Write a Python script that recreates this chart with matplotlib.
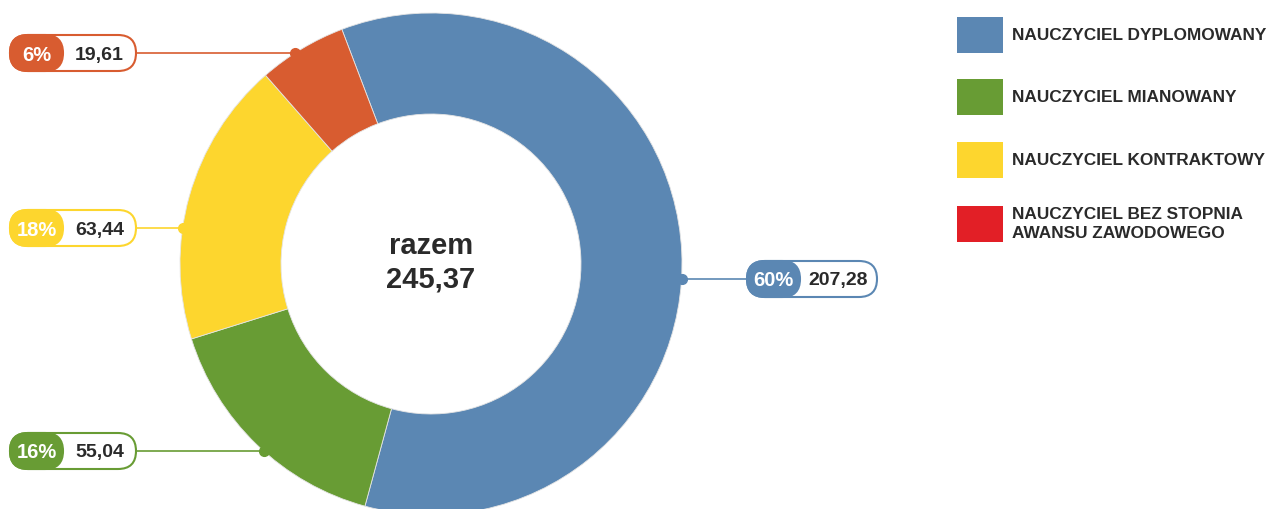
import numpy as np
import matplotlib
matplotlib.use("Agg")
import matplotlib.pyplot as plt
from matplotlib.patches import FancyBboxPatch, Rectangle

# --- data -----------------------------------------------------------------
categories = [
    "NAUCZYCIEL DYPLOMOWANY",
    "NAUCZYCIEL MIANOWANY",
    "NAUCZYCIEL KONTRAKTOWY",
    "NAUCZYCIEL BEZ STOPNIA\nAWANSU ZAWODOWEGO",
]
values = [207.28, 55.04, 63.44, 19.61]
center_title = "razem"
total_label = "245,37"

wedge_colors = ["#5b87b3", "#689c34", "#fdd62e", "#d85c30"]
legend_colors = ["#5b87b3", "#689c34", "#fdd62e", "#e21f26"]

# --- layout (pixels, measured from top) ------------------------------------
W, H = 1271, 509
label_y = [279, 451, 228, 53]
label_x = [747, 10, 10, 10]
pill_w = [130, 126, 126, 126]
pill_h = 36
pct_w = 53
legend_y = [35, 97, 160, 224]

TXT = "#2a2a2a"
FONT = "Liberation Sans"

fig = plt.figure(figsize=(W / 100, H / 100), dpi=100)
fig.patch.set_facecolor("white")
ax = fig.add_axes([0, 0, 1, 1])

cx, cy, R, r_in = 431, H - 264, 251, 150
wedges, _ = ax.pie(
    values, colors=wedge_colors, startangle=110.8, counterclock=False,
    radius=R, center=(cx, cy),
    wedgeprops=dict(width=R - r_in, edgecolor="#e4e4e4", linewidth=0.6),
)
ax.set_xlim(0, W)
ax.set_ylim(0, H)
ax.set_aspect("equal")
ax.axis("off")

ax.text(cx, H - 246, center_title, ha="center", va="center", fontsize=21,
        fontweight="bold", color=TXT, family=FONT)
ax.text(cx, H - 280, total_label, ha="center", va="center", fontsize=21,
        fontweight="bold", color=TXT, family=FONT)

total = sum(values)
for v, col, ly, lx, pw in zip(values, wedge_colors, label_y, label_x, pill_w):
    pct = f"{round(v / total * 100):.0f}%"
    val = f"{v:.2f}".replace(".", ",")
    y = H - ly
    dx = np.sqrt(R ** 2 - (y - cy) ** 2)
    right = lx > cx
    xd = cx + dx if right else cx - dx
    x_end = lx if right else lx + pw
    ax.plot([xd, x_end], [y, y], color=col, lw=1.2, zorder=1,
            solid_capstyle="butt")
    ax.plot(xd, y, "o", ms=7, color=col, zorder=3)

    ax.add_patch(FancyBboxPatch(
        (lx, y - pill_h / 2), pw, pill_h,
        boxstyle=f"round,pad=0,rounding_size={pill_h / 2}",
        fc="white", ec=col, lw=1.5, zorder=4))
    ax.add_patch(FancyBboxPatch(
        (lx, y - pill_h / 2), pct_w, pill_h,
        boxstyle=f"round,pad=0,rounding_size={pill_h / 2}",
        fc=col, ec=col, lw=1.5, zorder=5))
    ax.text(lx + pct_w / 2, y, pct, ha="center", va="center_baseline",
            fontsize=14.5, fontweight="bold", color="white", family=FONT,
            zorder=6)
    ax.text(lx + pct_w + (pw - pct_w) / 2, y, val, ha="center",
            va="center_baseline", fontsize=14, fontweight="bold", color=TXT,
            family=FONT, zorder=6)

# legend
for cat, col, ly in zip(categories, legend_colors, legend_y):
    ax.add_patch(Rectangle((957, H - ly - 18), 46, 36, fc=col, ec="none"))
    ax.text(1012, H - ly, cat, ha="left", va="center", fontsize=12.4,
            fontweight="bold", color=TXT, family=FONT, linespacing=1.3)

fig.savefig("out.png", dpi=100, facecolor="white")
